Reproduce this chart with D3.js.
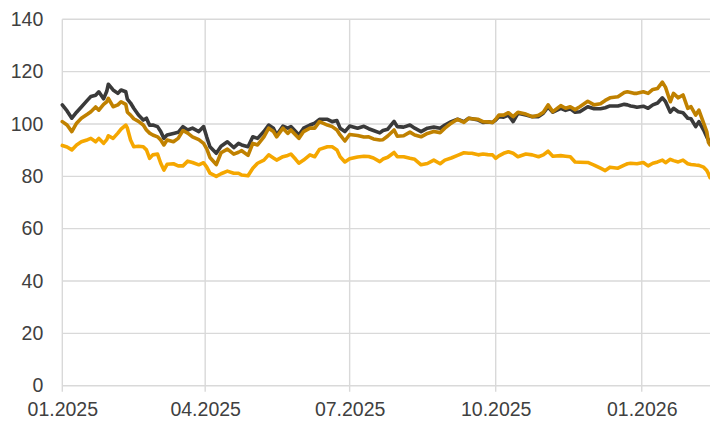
<!DOCTYPE html>
<html>
<head>
<meta charset="utf-8">
<script src="https://cdn.jsdelivr.net/npm/d3@7"></script>
<style>
  html, body { margin: 0; padding: 0; background: #fff; }
  svg { display: block; }
</style>
</head>
<body>
<svg id="chart" width="710" height="422"></svg>
<script>
const dates = [
  "2025-01-01","2025-01-04","2025-01-07","2025-01-10","2025-01-13","2025-01-17","2025-01-19","2025-01-22","2025-01-24","2025-01-27",
  "2025-01-29","2025-01-30","2025-02-02","2025-02-05","2025-02-07","2025-02-10","2025-02-11","2025-02-13","2025-02-15","2025-02-18",
  "2025-02-21","2025-02-23","2025-02-25","2025-02-27","2025-03-02","2025-03-04","2025-03-06","2025-03-08","2025-03-12","2025-03-15",
  "2025-03-18","2025-03-21","2025-03-24","2025-03-28","2025-03-31","2025-04-02","2025-04-04","2025-04-08","2025-04-11","2025-04-15",
  "2025-04-19","2025-04-22","2025-04-24","2025-04-28","2025-05-01","2025-05-04","2025-05-08","2025-05-11","2025-05-14","2025-05-16",
  "2025-05-20","2025-05-23","2025-05-25","2025-05-28","2025-05-30","2025-06-02","2025-06-06","2025-06-09","2025-06-12","2025-06-17",
  "2025-06-20","2025-06-23","2025-06-25","2025-06-28","2025-07-01","2025-07-06","2025-07-10","2025-07-13","2025-07-16","2025-07-20",
  "2025-07-22","2025-07-25","2025-07-29","2025-07-31","2025-08-04","2025-08-08","2025-08-11","2025-08-15","2025-08-19","2025-08-23",
  "2025-08-27","2025-08-30","2025-09-03","2025-09-07","2025-09-11","2025-09-14","2025-09-16","2025-09-20","2025-09-23","2025-09-26",
  "2025-09-29","2025-10-01","2025-10-03","2025-10-06","2025-10-09","2025-10-12","2025-10-15","2025-10-20","2025-10-24","2025-10-28",
  "2025-10-31","2025-11-03","2025-11-06","2025-11-11","2025-11-14","2025-11-17","2025-11-20","2025-11-23","2025-11-28","2025-12-02",
  "2025-12-06","2025-12-09","2025-12-12","2025-12-17","2025-12-21","2025-12-23","2025-12-25","2025-12-27","2025-12-29","2026-01-02",
  "2026-01-05","2026-01-08","2026-01-11","2026-01-14","2026-01-16","2026-01-19","2026-01-21","2026-01-24","2026-01-27","2026-01-30",
  "2026-02-01","2026-02-04","2026-02-06","2026-02-09","2026-02-11","2026-02-12","2026-02-13"
];

const seriesDark = [
  107.3,105,102.2,104.5,106.5,109.2,110.5,111,112.3,109.6,
  112.5,115.2,113,111.7,113,112.3,109.5,108,106,103.4,
  101.5,102.2,99.5,99.6,99,97.1,94.5,95.8,96.4,96.8,
  99,97.7,98.4,97.1,99,95,91.3,88.8,91.5,93.2,
  91,92.6,92,91.3,95.1,94.5,97.1,99.6,98.4,95.8,
  99.2,98.4,99,97.1,95.8,98.4,99.6,100.3,101.8,101.8,
  100.9,101.3,98.4,97.1,99.2,98.4,99.1,98.2,97.5,96.6,
  97.5,98,101,99,98.8,99.6,98.4,97.1,98.4,98.8,
  98.4,99.6,100.9,101.8,100.9,102.2,102,101.5,100.6,100.8,
  100.6,101.5,102.8,102.6,103.4,100.9,104.1,103.4,102.8,102.8,
  104.1,106.5,104.5,106,105.2,105.8,104.5,104.7,106.6,105.8,
  105.8,106.2,106.9,106.9,107.5,107.3,106.9,106.7,106.4,106.8,
  106,107.3,108,110,108.5,104.5,106,104.7,104.3,102.2,
  102,99,100.9,97.7,95,93.9,92.6
];

const seriesGold = [
  100.9,99.6,97.1,100.3,102.2,103.8,104.7,106.5,105.3,107.5,
  108.5,109.8,106.6,107.3,108.5,107.5,104.5,103.4,102,101,
  99.6,97.7,96.5,95.8,95.1,93.9,92,93.9,93.2,94.5,
  97.5,96.5,95.1,94,92.6,90.5,87.2,84.5,89,90.4,
  88.5,89.2,89.8,88,92.6,92,95.1,98.4,97.1,95.1,
  98.4,96.4,97.7,95.8,94.5,97.1,98.4,98.4,100.9,99.6,
  99,97.7,95.8,93.5,96,95.6,95,95.1,94.3,93.9,
  94,95.4,97.7,95.3,95.5,96.9,95.8,95.1,96.4,97.1,
  96.7,98.4,100.3,101.8,100.6,102.2,102,101.8,100.9,100.8,
  100.6,101.8,103.4,103.4,104.3,102.8,104.5,103.8,102.8,103.3,
  104.5,107.3,104.7,107,106,106.6,105.5,106.6,108.7,107.3,
  107.7,109,110,110.4,112,112.3,112,111.7,111.7,112.3,
  111.7,113.2,113.6,116,114,108.5,111.7,110,111.1,106,
  106.6,103.4,105.3,100.3,97,93,92
];

const seriesOrange = [
  91.8,91.2,90.1,92,93.2,94,94.5,93.2,94.5,92.6,
  94,95.5,94.5,96.5,98,99.6,98.4,93.9,91.3,91.5,
  91.3,90.1,86.9,88.2,88.5,85,82.4,84.6,84.8,84,
  84,85.8,85.3,84.4,85.2,83.5,81.2,80,81,82,
  81.2,81.2,80.5,80.2,83.1,85,86.2,88.2,87,86.2,
  87.5,88,88.5,86.5,85,86.2,88.2,87.5,90.3,91.3,
  91.3,90.1,87.5,85.5,86.7,87.4,87.7,87.6,87,85.6,
  86.6,87.3,89.1,87.5,87.5,86.9,86.5,84.4,84.9,86.2,
  84.8,86.2,87,88,89,88.8,88.8,88.2,88.5,88.3,
  88.2,86.9,87.8,88.8,89.4,88.8,87.5,88.5,88.2,87.5,
  88.2,89.6,87.7,87.9,87.7,87.5,85.5,85.4,85.3,84.3,
  83.1,82.2,83.5,83.1,84.3,84.8,85,84.9,84.8,85.3,
  84,85,85.5,86.2,85.2,86.5,86,85.5,86.2,84.8,
  84.5,84.3,84.2,83.5,82.2,81,79.5
];

const yTicks = [0, 20, 40, 60, 80, 100, 120, 140];
const xTicks = ["2025-01-01", "2025-04-01", "2025-07-01", "2025-10-01", "2026-01-01"];

const parse = d3.timeParse("%Y-%m-%d");
const fmt = d3.timeFormat("%m.%Y");

const svg = d3.select("#chart");
const plotLeft = 62.3, plotRight = 710, plotTop = 19.3, plotBottom = 385.7;

const x = d3.scaleTime()
  .domain([parse(dates[0]), parse(dates[dates.length - 1])])
  .range([plotLeft, plotRight]);
const y = d3.scaleLinear().domain([0, 140]).range([plotBottom, plotTop]);

const gridColor = "#d9d9d9";
const textColor = "#404040";
const fontFamily = "'Liberation Sans', Arial, sans-serif";

// horizontal grid lines
svg.append("g").selectAll("line").data(yTicks).join("line")
  .attr("x1", plotLeft).attr("x2", plotRight)
  .attr("y1", d => y(d)).attr("y2", d => y(d))
  .attr("stroke", gridColor).attr("stroke-width", 1.4);

// vertical grid lines (with tick extension below)
svg.append("g").selectAll("line").data(xTicks.map(parse)).join("line")
  .attr("x1", d => x(d)).attr("x2", d => x(d))
  .attr("y1", plotTop).attr("y2", plotBottom + 6)
  .attr("stroke", gridColor).attr("stroke-width", 1.4);

// y axis labels
const yAxis = d3.axisLeft(y).tickValues(yTicks).tickSize(0).tickPadding(19);
const gy = svg.append("g").attr("transform", `translate(${plotLeft},0)`).call(yAxis);
gy.select(".domain").remove();
gy.selectAll("text").attr("fill", textColor).style("font-family", fontFamily).style("font-size", "19.5px");

// x axis labels
const xAxis = d3.axisBottom(x).tickValues(xTicks.map(parse)).tickFormat(fmt).tickSize(0).tickPadding(16);
const gx = svg.append("g").attr("transform", `translate(0,${plotBottom})`).call(xAxis);
gx.select(".domain").remove();
gx.selectAll("text").attr("fill", textColor).style("font-family", fontFamily).style("font-size", "19.5px");

const series = [
  { values: seriesDark, color: "#3a3a3a" },
  { values: seriesOrange, color: "#f5a700" },
  { values: seriesGold, color: "#c08100" }
];

const line = d3.line()
  .x((d, i) => x(parse(dates[i])))
  .y(d => y(d));

svg.append("g").selectAll("path").data(series).join("path")
  .attr("d", s => line(s.values))
  .attr("fill", "none")
  .attr("stroke", s => s.color)
  .attr("stroke-width", 3.6)
  .attr("stroke-linejoin", "round")
  .attr("stroke-linecap", "round");
</script>
</body>
</html>
